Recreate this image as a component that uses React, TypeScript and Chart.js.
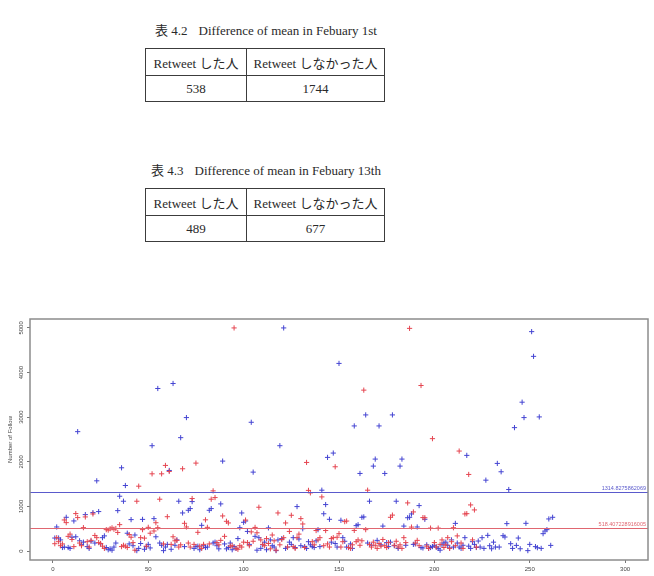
import React, { useEffect, useRef } from "react";
import { Chart, registerables } from "chart.js";

Chart.register(...registerables);

// ---------------- data ----------------
const tableCaptions = ["表 4.2", "表 4.3"];
const tableTitles = ["Difference of mean in Febuary 1st", "Difference of mean in Febuary 13th"];
const tableHeaders = ["Retweet した人", "Retweet しなかった人"];
const tableValues = [
  [538, 1744],
  [489, 677],
];

// follow counts of users who retweeted (red) – index is x position 1..n
const retweetedFollows = [
  165, 300, 210, 120, 160, 697, 637, 330, 380, 260,
  100, 840, 750, 180, 120, 525, 765, 210, 90, 240,
  832, 350, 300, 190, 170, 110, 60, 480, 470, 500,
  520, 490, 505, 417, 592, 100, 130, 110, 80, 370,
  310, 190, 20, 1117, 1454, 300, 480, 290, 110, 532,
  400, 1731, 450, 635, 523, 1162, 1731, 160, 1919, 770,
  1784, 150, 320, 230, 240, 90, 140, 1844, 622, 540,
  180, 90, 1177, 150, 1971, 420, 110, 60, 150, 700,
  532, 160, 1162, 1349, 1199, 190, 140, 240, 787, 330,
  667, 630, 110, 120, 5000, 60, 40, 120, 90, 200,
  695, 190, 120, 430, 220, 530, 410, 982, 250, 150,
  120, 280, 170, 50, 360, 230, 20, 854, 140, 260,
  300, 630, 90, 440, 802, 100, 60, 300, 380, 727,
  607, 80, 1986, 1360, 1304, 210, 140, 460, 250, 300,
  1214, 120, 460, 160, 90, 280, 300, 1889, 310, 390,
  90, 210, 660, 673, 80, 60, 140, 463, 210, 250,
  130, 230, 3606, 480, 1364, 150, 90, 200, 130, 60,
  170, 110, 260, 120, 80, 190, 757, 806, 130, 220,
  90, 140, 60, 300, 190, 1079, 4990, 538, 877, 180,
  240, 120, 3710, 750, 747, 110, 60, 515, 2519, 190,
  90, 515, 150, 250, 80, 140, 300, 60, 210, 523,
  120, 340, 2241, 180, 60, 832, 838, 1717, 1034, 250,
  922, 90,
];

// follow counts of users who did not retweet (blue)
const notRetweetedFollows = [
  292, 540, 292, 250, 80, 90, 757, 80, 60, 310,
  675, 320, 2676, 230, 150, 200, 817, 100, 60, 220,
  862, 180, 1574, 885, 160, 300, 340, 80, 30, 50,
  20, 90, 180, 906, 1229, 1866, 1117, 1469, 400, 160,
  705, 120, 360, 10, 60, 170, 710, 40, 100, 150,
  70, 2361, 727, 320, 3643, 180, 130, 10, 90, 150,
  1806, 40, 3755, 130, 250, 1117, 2541, 854, 100, 2991,
  914, 952, 1109, 60, 100, 110, 30, 577, 120, 80,
  90, 914, 952, 180, 200, 120, 50, 1057, 2016, 160,
  50, 80, 180, 30, 100, 60, 280, 523, 854, 645,
  673, 440, 150, 2886, 1769, 330, 20, 300, 60, 140,
  200, 30, 520, 250, 120, 90, 10, 250, 2361, 280,
  5000, 60, 90, 200, 150, 300, 80, 997, 270, 120,
  500, 100, 60, 210, 140, 100, 80, 230, 480, 100,
  1364, 836, 1042, 2099, 712, 200, 2196, 170, 90, 4205,
  690, 300, 220, 90, 80, 160, 60, 2804, 570, 590,
  1739, 757, 765, 3051, 180, 1117, 130, 1904, 2061, 240,
  2804, 140, 560, 1739, 190, 100, 200, 3051, 120, 1117,
  60, 1904, 2061, 560, 130, 747, 757, 832, 150, 160,
  540, 1019, 80, 70, 712, 140, 60, 80, 100, 130,
  90, 60, 20, 140, 180, 200, 130, 70, 250, 90,
  620, 180, 90, 60, 130, 300, 2144, 110, 60, 210,
  150, 80, 225, 90, 300, 60, 1589, 352, 120, 52,
  200, 90, 1964, 90, 1777, 345, 315, 615, 1379, 165,
  60, 2766, 127, 292, 52, 3336, 2991, 622, 10, 150,
  4917, 4363, 100, 75, 3006, 60, 390, 450, 480, 720,
  127, 757,
];

const meanValues = [1314.8275862069, 518.407228916005];
const meanLabels = ["1314.8275862069", "518.407228916005"];
const xTicks = [0, 50, 100, 150, 200, 250, 300];
const yTicks = [0, 1000, 2000, 3000, 4000, 5000];
const yTitle = "Number of Follow";

// ---------------- styles ----------------
const RED = "#e54550";
const BLUE = "#4444d2";
const lineColors = ["#5a5acc", "#e06670"];
const SERIF = "'Liberation Serif', 'DejaVu Serif', 'Noto Sans CJK JP', serif";
const SANS = "'Liberation Sans', Arial, sans-serif";

const rPlotPlugin = {
  id: "rPlot",
  afterDatasetsDraw(chart: any) {
    const { ctx, chartArea, scales } = chart;
    const { left, right, top, bottom } = chartArea;
    const y = scales.y;
    ctx.save();
    meanValues.forEach((m, i) => {
      const py = Math.round(y.getPixelForValue(m)) + 0.5;
      ctx.strokeStyle = lineColors[i];
      ctx.lineWidth = 1;
      ctx.beginPath();
      ctx.moveTo(left, py);
      ctx.lineTo(right, py);
      ctx.stroke();
      ctx.fillStyle = lineColors[i];
      ctx.font = `5.5px ${SANS}`;
      ctx.textAlign = "right";
      ctx.textBaseline = "bottom";
      ctx.fillText(meanLabels[i], right - 2, py - 1.5);
    });
    ctx.strokeStyle = "#8c8c8c";
    ctx.lineWidth = 1.5;
    ctx.strokeRect(left, top, right - left, bottom - top);
    ctx.fillStyle = "#444";
    ctx.font = `6px ${SANS}`;
    ctx.textAlign = "center";
    ctx.textBaseline = "middle";
    y.ticks.forEach((t: any) => {
      const py = y.getPixelForValue(t.value);
      ctx.save();
      ctx.translate(left - 9, py);
      ctx.rotate(-Math.PI / 2);
      ctx.fillText(String(t.value), 0, 0);
      ctx.restore();
    });
    ctx.restore();
  },
};

function ScatterChart() {
  const ref = useRef<HTMLCanvasElement | null>(null);
  useEffect(() => {
    if (!ref.current) return;
    const toPoints = (arr: number[]) => arr.map((v, i) => ({ x: i + 1, y: v }));
    const chart = new Chart(ref.current, {
      type: "scatter",
      data: {
        datasets: [
          {
            label: "retweeted",
            data: toPoints(retweetedFollows),
            pointStyle: "cross",
            radius: 2.6,
            borderWidth: 1,
            borderColor: RED,
            backgroundColor: RED,
          },
          {
            label: "not retweeted",
            data: toPoints(notRetweetedFollows),
            pointStyle: "cross",
            radius: 2.6,
            borderWidth: 1,
            borderColor: BLUE,
            backgroundColor: BLUE,
          },
        ],
      },
      options: {
        animation: false,
        responsive: false,
        events: [],
        layout: { padding: { left: 0, right: 6, top: 19, bottom: 0 } },
        plugins: { legend: { display: false }, tooltip: { enabled: false } },
        scales: {
          x: {
            type: "linear",
            min: -12,
            max: 312,
            afterBuildTicks: (s: any) => {
              s.ticks = xTicks.map((v) => ({ value: v }));
            },
            afterFit: (s: any) => {
              s.height = 16;
            },
            grid: { drawOnChartArea: false, drawTicks: true, tickLength: 3, color: "#777" },
            border: { display: false },
            ticks: {
              font: { size: 6, family: SANS },
              color: "#444",
              padding: 3,
              maxRotation: 0,
              autoSkip: false,
            },
          },
          y: {
            type: "linear",
            min: -200,
            max: 5200,
            afterBuildTicks: (s: any) => {
              s.ticks = yTicks.map((v) => ({ value: v }));
            },
            afterFit: (s: any) => {
              s.width = 30;
            },
            grid: { drawOnChartArea: false, drawTicks: true, tickLength: 3, color: "#777" },
            border: { display: false },
            ticks: { display: false },
            title: {
              display: true,
              text: yTitle,
              font: { size: 6, family: SANS },
              color: "#444",
              padding: { top: 7, bottom: 0 },
            },
          },
        },
      },
      plugins: [rPlotPlugin],
    } as any);
    return () => chart.destroy();
  }, []);
  return (
    <canvas
      ref={ref}
      width={654}
      height={276}
      style={{ position: "absolute", left: 0, top: 300, width: 654, height: 276, display: "block" }}
    />
  );
}

function MeanTable({ index, top }: { index: number; top: number }) {
  const cell: React.CSSProperties = {
    border: "1px solid #3c3c3c",
    padding: 0,
    textAlign: "center",
    verticalAlign: "middle",
    whiteSpace: "nowrap",
  };
  return (
    <>
      <div
        style={{
          position: "absolute",
          left: 145,
          width: 242,
          top: top - 25,
          lineHeight: "16px",
          textAlign: "center",
          whiteSpace: "nowrap",
          fontFamily: SERIF,
          fontSize: 13,
          color: "#2a2a2a",
        }}
      >
        {tableCaptions[index]}
        <span style={{ marginLeft: 11 }}>{tableTitles[index]}</span>
      </div>
      <table
        style={{
          position: "absolute",
          left: 145,
          top,
          width: 239,
          borderCollapse: "collapse",
          tableLayout: "fixed",
          fontFamily: SERIF,
          fontSize: 13,
          color: "#2a2a2a",
        }}
      >
        <colgroup>
          <col style={{ width: 101 }} />
          <col style={{ width: 138 }} />
        </colgroup>
        <tbody>
          <tr style={{ height: 27 }}>
            {tableHeaders.map((h) => (
              <td key={h} style={cell}>
                {h}
              </td>
            ))}
          </tr>
          <tr style={{ height: 26 }}>
            {tableValues[index].map((v, i) => (
              <td key={i} style={cell}>
                {v}
              </td>
            ))}
          </tr>
        </tbody>
      </table>
    </>
  );
}

export default function App() {
  return (
    <div
      style={{
        position: "absolute",
        left: 0,
        top: 0,
        width: 654,
        height: 576,
        background: "#fff",
        overflow: "hidden",
      }}
    >
      <MeanTable index={0} top={48} />
      <MeanTable index={1} top={188} />
      <ScatterChart />
    </div>
  );
}
